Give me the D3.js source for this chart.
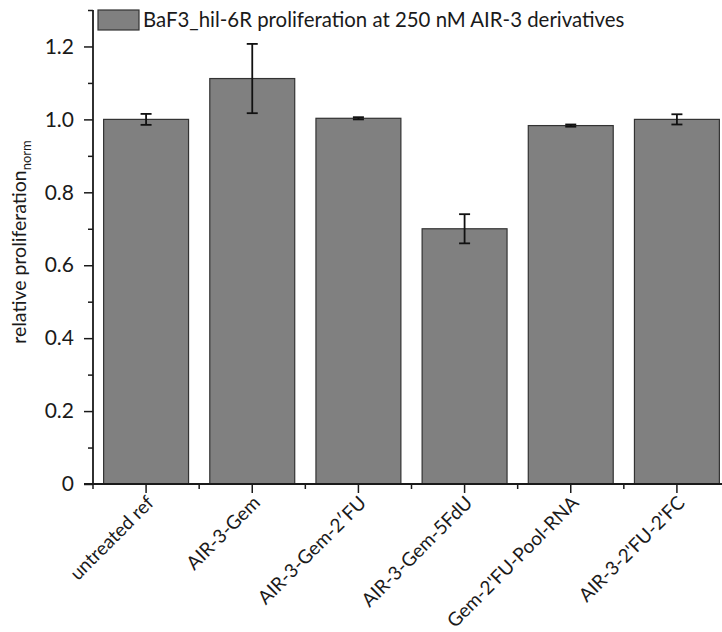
<!DOCTYPE html>
<html>
<head>
<meta charset="utf-8">
<script src="https://cdn.jsdelivr.net/npm/d3@7"></script>
<style>
  html, body { margin: 0; padding: 0; background: #fff; }
  svg { display: block; }
  text { font-family: Lato, "Open Sans", sans-serif; fill: #1a1a1a; }
</style>
</head>
<body>
<svg id="chart" width="722" height="632"></svg>
<script>
const categories = ["untreated ref", "AIR-3-Gem", "AIR-3-Gem-2\u2032FU", "AIR-3-Gem-5FdU", "Gem-2'FU-Pool-RNA", "AIR-3-2'FU-2'FC"];
const values = [1.0, 1.112, 1.003, 0.70, 0.983, 1.0];
const errors = [0.015, 0.095, 0.003, 0.040, 0.003, 0.014];
const yMajorTicks = [0, 0.2, 0.4, 0.6, 0.8, 1.0, 1.2];
const yMinorTicks = [0.1, 0.3, 0.5, 0.7, 0.9, 1.1, 1.3];
const yTickLabels = ["0", "0.2", "0.4", "0.6", "0.8", "1.0", "1.2"];
const legendLabel = "BaF3_hil-6R proliferation at 250 nM AIR-3 derivatives";

const svg = d3.select("#chart");
const mLeft = 93, mRight = 730, mTop = 10, mBottom = 484;

const x = d3.scaleBand().domain(categories).range([mLeft, mRight]).paddingInner(0.2).paddingOuter(0.1);
const y = d3.scaleLinear().domain([0, 1.3]).range([mBottom, mTop]);

const axisColor = "#1a1a1a";

// bars
svg.append("g").selectAll("rect").data(categories).join("rect")
  .attr("x", d => x(d))
  .attr("y", (d, i) => y(values[i]))
  .attr("width", x.bandwidth())
  .attr("height", (d, i) => y(0) - y(values[i]))
  .attr("fill", "#808080")
  .attr("stroke", "#333")
  .attr("stroke-width", 1.2);

// error bars
const eg = svg.append("g").attr("stroke", "#111").attr("stroke-width", 1.8);
categories.forEach((c, i) => {
  const cx = x(c) + x.bandwidth() / 2;
  const y1 = y(values[i] + errors[i]), y2 = y(values[i] - errors[i]);
  eg.append("line").attr("x1", cx).attr("x2", cx).attr("y1", y1).attr("y2", y2);
  eg.append("line").attr("x1", cx - 5.5).attr("x2", cx + 5.5).attr("y1", y1).attr("y2", y1);
  eg.append("line").attr("x1", cx - 5.5).attr("x2", cx + 5.5).attr("y1", y2).attr("y2", y2);
});

// y axis
const yAxis = d3.axisLeft(y).tickValues(yMajorTicks).tickSize(9).tickPadding(10)
  .tickFormat((d, i) => yTickLabels[i]);
const yg = svg.append("g").attr("transform", `translate(${mLeft},0)`).call(yAxis);
yg.select(".domain").remove();
yg.selectAll(".tick line").attr("stroke", axisColor).attr("stroke-width", 1.5);
yg.selectAll(".tick text").attr("font-size", 21).attr("font-family", "Lato, sans-serif").attr("fill", "#1a1a1a");
const yMinor = d3.axisLeft(y).tickValues(yMinorTicks).tickSize(5).tickFormat("");
const ymg = svg.append("g").attr("transform", `translate(${mLeft},0)`).call(yMinor);
ymg.select(".domain").remove();
ymg.selectAll(".tick line").attr("stroke", axisColor).attr("stroke-width", 1.5);
svg.append("line").attr("x1", mLeft).attr("x2", mLeft).attr("y1", y(1.3)).attr("y2", mBottom)
  .attr("stroke", axisColor).attr("stroke-width", 1.8);

// x axis
svg.append("line").attr("x1", mLeft - 9).attr("x2", 722).attr("y1", mBottom).attr("y2", mBottom)
  .attr("stroke", axisColor).attr("stroke-width", 1.8);
const xg = svg.append("g");
categories.forEach((c) => {
  const cx = x(c) + x.bandwidth() / 2;
  xg.append("line").attr("x1", cx).attr("x2", cx).attr("y1", mBottom).attr("y2", mBottom + 9)
    .attr("stroke", axisColor).attr("stroke-width", 1.5);
  const bx = x(c) - x.step() * x.paddingInner() / 2;
  xg.append("line").attr("x1", bx).attr("x2", bx).attr("y1", mBottom).attr("y2", mBottom + 5)
    .attr("stroke", axisColor).attr("stroke-width", 1.5);
  xg.append("text")
    .attr("transform", `translate(${cx + 9},${mBottom + 20}) rotate(-45)`)
    .attr("text-anchor", "end")
    .attr("font-size", 19)
    .text(c);
});

// y label
const yl = svg.append("text")
  .attr("transform", `translate(26,242) rotate(-90)`)
  .attr("text-anchor", "middle")
  .attr("font-size", 19.5);
yl.append("tspan").text("relative proliferation");
yl.append("tspan").attr("font-size", 13).attr("dy", 5).text("norm");

// legend
svg.append("rect").attr("x", 98).attr("y", 10).attr("width", 41).attr("height", 20)
  .attr("fill", "#808080").attr("stroke", "#333").attr("stroke-width", 1.2);
svg.append("text").attr("x", 143).attr("y", 27).attr("font-size", 20.4).text(legendLabel);
</script>
</body>
</html>
